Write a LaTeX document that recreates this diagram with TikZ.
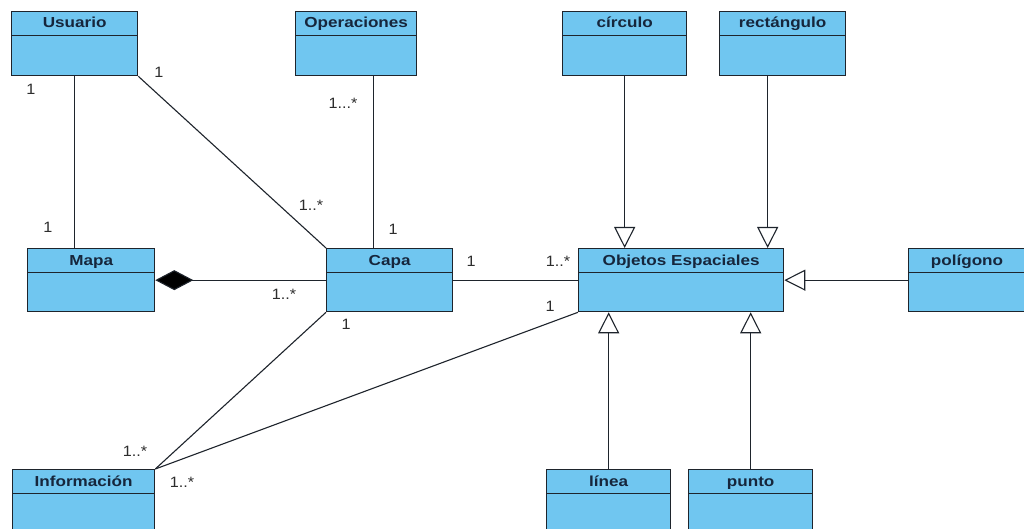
\documentclass[tikz,border=0pt]{standalone}
\usepackage{fontspec}
\setmainfont{Liberation Sans}
\newfontfamily\ttlfont[FakeStretch=1.18]{Liberation Sans}
\newfontfamily\lblfont[FakeStretch=1.08]{Liberation Sans}
\usetikzlibrary{arrows.meta}
\definecolor{clsfill}{RGB}{112,198,240}
\definecolor{clsline}{RGB}{30,36,44}
\definecolor{clstext}{RGB}{22,38,60}
\definecolor{lblcol}{RGB}{45,45,45}
\begin{document}
\begin{tikzpicture}[x=1pt,y=-1pt,
  cls/.style={draw=clsline, fill=clsfill, line width=1.3pt, rectangle, anchor=north west, inner sep=0pt,
    path picture={\draw[clsline, line width=1.3pt] ([yshift=-24pt]path picture bounding box.north west) -- ([yshift=-24pt]path picture bounding box.north east);}},
  ttl/.style={anchor=base, inner sep=0pt, text=clstext, font=\ttlfont\bfseries\fontsize{14.5}{15}\selectfont},
  lbl/.style={inner sep=0pt, text=lblcol, font=\lblfont\fontsize{15}{15}\selectfont},
  conn/.style={draw=clsline, line width=1.1pt},
  gen/.style={conn, -{Triangle[open, width=21pt, length=21pt, line width=1.1pt, fill=white]}},
  comp/.style={conn, {Diamond[width=20pt, length=38pt, fill=black]}-}
]
\useasboundingbox (0,0) rectangle (1024,529);
\fill[white] (0,0) rectangle (1024,529);
\clip (0,0) rectangle (1024,529);

% classes
\node[cls, minimum width=126pt, minimum height=64pt] (usuario) at (11,11) {};
\node[cls, minimum width=121pt, minimum height=64pt] (operaciones) at (295,11) {};
\node[cls, minimum width=124pt, minimum height=64pt] (circulo) at (562,11) {};
\node[cls, minimum width=126pt, minimum height=64pt] (rectangulo) at (719,11) {};
\node[cls, minimum width=127pt, minimum height=63pt] (mapa) at (27,248) {};
\node[cls, minimum width=126pt, minimum height=63pt] (capa) at (326,248) {};
\node[cls, minimum width=205pt, minimum height=63pt] (objetos) at (578,248) {};
\node[cls, minimum width=130pt, minimum height=63pt] (poligono) at (908,248) {};
\node[cls, minimum width=142pt, minimum height=70pt] (informacion) at (12,469) {};
\node[cls, minimum width=124pt, minimum height=70pt] (linea) at (546,469) {};
\node[cls, minimum width=124pt, minimum height=70pt] (punto) at (688,469) {};

% titles
\node[ttl] (t-usuario) at ([yshift=-17pt]usuario.north) {Usuario};
\node[ttl] (t-operaciones) at ([yshift=-17pt]operaciones.north) {Operaciones};
\node[ttl] (t-circulo) at ([yshift=-17pt]circulo.north) {círculo};
\node[ttl] (t-rectangulo) at ([yshift=-17pt]rectangulo.north) {rectángulo};
\node[ttl] (t-mapa) at ([yshift=-17pt]mapa.north) {Mapa};
\node[ttl] (t-capa) at ([yshift=-17pt]capa.north) {Capa};
\node[ttl] (t-objetos) at ([yshift=-17pt]objetos.north) {Objetos Espaciales};
\node[ttl] (t-poligono) at (967,265) {polígono};
\node[ttl] (t-informacion) at ([yshift=-17pt]informacion.north) {Información};
\node[ttl] (t-linea) at ([yshift=-17pt]linea.north) {línea};
\node[ttl] (t-punto) at ([yshift=-17pt]punto.north) {punto};

% associations
\draw[conn] (usuario.south) -- (usuario.south |- mapa.north);
\draw[conn] (usuario.south east) -- (capa.north west);
\draw[conn] ([xshift=17.5pt]operaciones.south) -- ([xshift=17.5pt]operaciones.south |- capa.north);
\draw[comp] (mapa.east) -- (capa.west);
\draw[conn] (capa.east) -- (objetos.west);
\draw[conn] (capa.south west) -- (informacion.north east);
\draw[conn] (objetos.south west) -- (informacion.north east);

% generalizations
\draw[gen] (circulo.south) -- (circulo.south |- objetos.north);
\draw[gen] ([xshift=-15pt]rectangulo.south) -- ([xshift=-15pt]rectangulo.south |- objetos.north);
\draw[gen] (poligono.west) -- (objetos.east);
\draw[gen] (linea.north) -- (linea.north |- objetos.south);
\draw[gen] (punto.north) -- (punto.north |- objetos.south);

% multiplicities
\node[lbl] (m1) at (31,89) {1};
\node[lbl] (m2) at (159,72) {1};
\node[lbl] (m3) at (343,103) {1...*};
\node[lbl] (m4) at (48,227) {1};
\node[lbl] (m5) at (311,205) {1..*};
\node[lbl] (m6) at (393,229) {1};
\node[lbl] (m7) at (284,294) {1..*};
\node[lbl] (m8) at (471,261) {1};
\node[lbl] (m9) at (558,261) {1..*};
\node[lbl] (m10) at (346,324) {1};
\node[lbl] (m11) at (550,306) {1};
\node[lbl] (m12) at (135,451) {1..*};
\node[lbl] (m13) at (182,482) {1..*};
\end{tikzpicture}
\end{document}
